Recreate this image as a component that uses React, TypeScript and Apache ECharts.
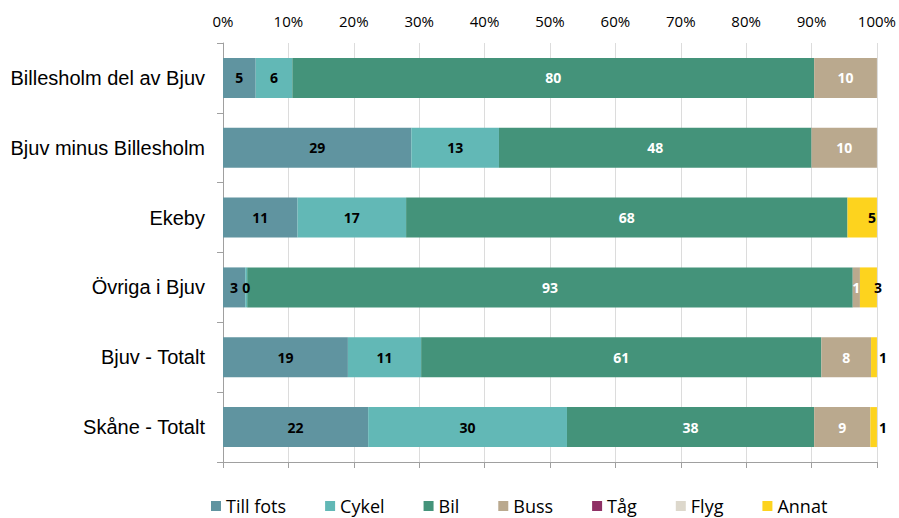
import React, { useEffect, useRef } from "react";
import * as echarts from "echarts";

const categories = [
  "Billesholm del av Bjuv",
  "Bjuv minus Billesholm",
  "Ekeby",
  "Övriga i Bjuv",
  "Bjuv - Totalt",
  "Skåne - Totalt",
];

const seriesNames = ["Till fots", "Cykel", "Bil", "Buss", "Tåg", "Flyg", "Annat"];

const tillFots = [5.0, 28.8, 11.4, 3.4, 19.1, 22.2];
const cykel = [5.6, 13.4, 16.6, 0.3, 11.2, 30.4];
const bil = [79.8, 47.8, 67.5, 92.6, 61.2, 37.8];
const buss = [9.6, 10.0, 0, 1.1, 7.6, 8.6];
const tag = [0, 0, 0, 0, 0, 0];
const flyg = [0, 0, 0, 0, 0, 0];
const annat = [0, 0, 4.5, 2.6, 0.9, 1.0];

const xTicks = [0, 10, 20, 30, 40, 50, 60, 70, 80, 90, 100];

const colors = ["#6094a0", "#62b8b6", "#44937a", "#baa98e", "#8f3165", "#ddd8cc", "#fdd31e"];
const labelColors = ["#000", "#000", "#fff", "#fff", "#fff", "#000", "#000"];

export default function App() {
  const ref = useRef<HTMLDivElement>(null);
  useEffect(() => {
    if (!ref.current) return;
    const chart = echarts.init(ref.current, undefined, { renderer: "svg" });
    const allValues = [tillFots, cykel, bil, buss, tag, flyg, annat];
    const series = allValues.map((vals, i) => {
      const isAnnat = i === 6;
      return {
        name: seriesNames[i],
        type: "bar",
        stack: "total",
        barWidth: 40,
        itemStyle: { color: colors[i] },
        label: {
          show: true,
          position: "inside",
          color: labelColors[i],
          fontFamily: "Open Sans",
          fontWeight: "bold",
          fontSize: 14,
          formatter: (p: any) => (p.value > 0 ? String(Math.round(p.value)) : ""),
        },
        data: vals.map((v) => {
          if (!isAnnat || v <= 0) return v;
          if (v < 2) return { value: v, label: { position: "right", distance: 2 } };
          if (v < 4) return { value: v, label: { position: "insideRight", distance: 1, offset: [6, 0] } };
          return { value: v, label: { position: "insideRight", distance: 1 } };
        }),
      };
    });
    chart.setOption({
      animation: false,
      grid: { left: 223, right: 21, top: 43, bottom: 56, containLabel: false },
      legend: {
        top: 492,
        left: 206,
        itemWidth: 10,
        itemHeight: 10,
        itemGap: 39,
        icon: "rect",
        textStyle: { fontFamily: "Open Sans", fontSize: 18, color: "#000" },
        data: seriesNames,
      },
      xAxis: [
        {
          type: "value",
          position: "top",
          min: 0,
          max: 100,
          interval: 10,
          axisLine: { show: false },
          axisTick: { show: false },
          splitLine: { show: true, lineStyle: { color: "#dcdcdc", width: 1 } },
          axisLabel: {
            margin: 15,
            fontFamily: "Open Sans",
            fontSize: 15,
            color: "#000",
            formatter: (v: number) => (xTicks.includes(v) ? v + "%" : ""),
          },
        },
        {
          type: "value",
          position: "bottom",
          min: 0,
          max: 100,
          interval: 10,
          axisLine: { show: true, lineStyle: { color: "#a0a0a0", width: 1 } },
          axisTick: { show: true, length: 6, lineStyle: { color: "#a0a0a0" } },
          splitLine: { show: false },
          axisLabel: { show: false },
        },
      ],
      yAxis: {
        type: "category",
        inverse: true,
        data: categories,
        axisLine: { show: true, lineStyle: { color: "#a0a0a0", width: 1 } },
        axisTick: { show: true, length: 6, lineStyle: { color: "#a0a0a0" } },
        axisLabel: {
          margin: 18,
          fontFamily: "Liberation Sans",
          fontSize: 20,
          color: "#000",
        },
      },
      series,
    });
    return () => chart.dispose();
  }, []);
  return (
    <div
      ref={ref}
      style={{ position: "absolute", left: 0, top: 0, width: 899, height: 518 }}
    />
  );
}
